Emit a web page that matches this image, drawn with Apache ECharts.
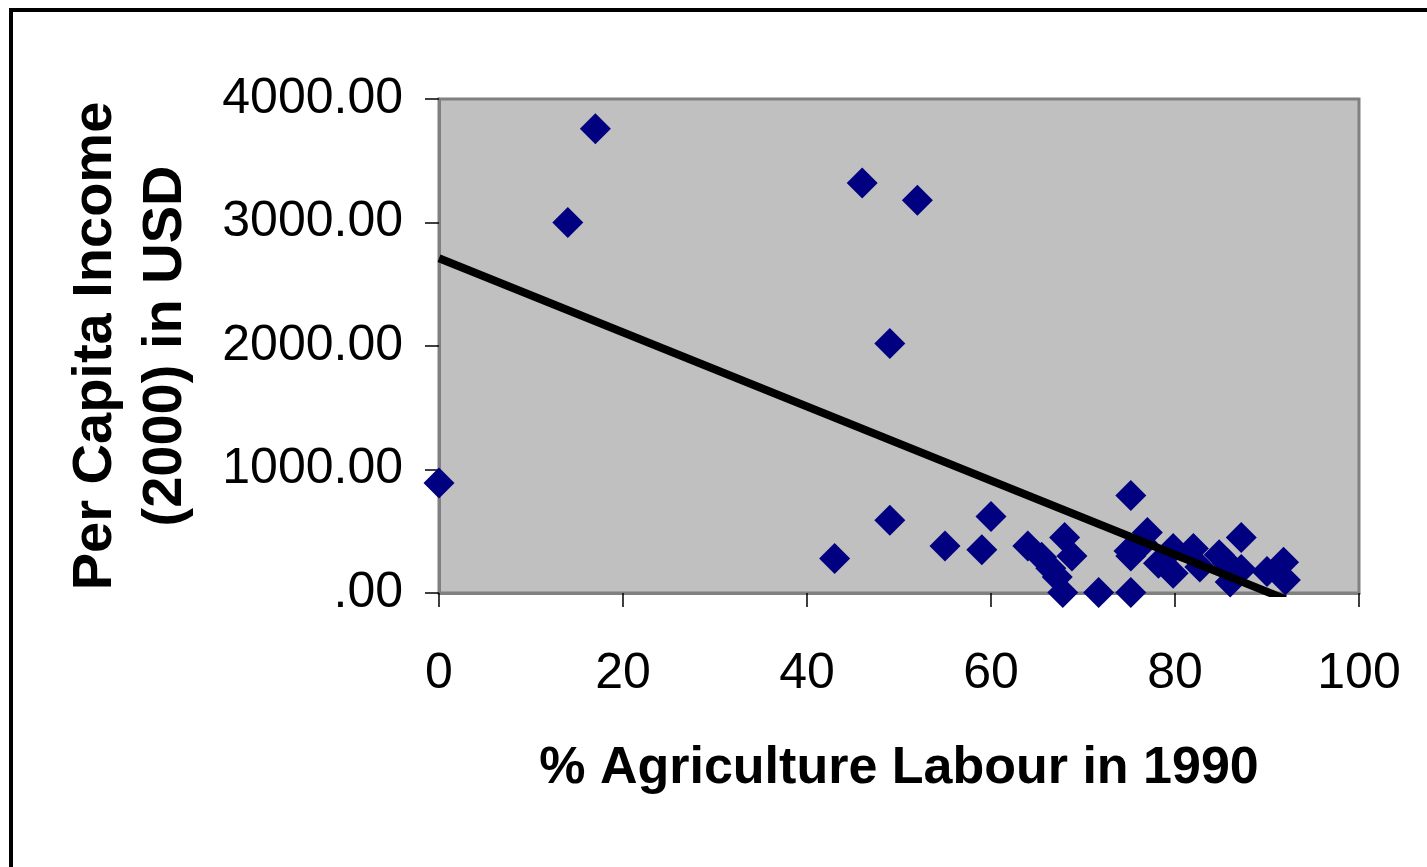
<!DOCTYPE html>
<html><head><meta charset="utf-8">
<script src="https://cdn.jsdelivr.net/npm/echarts@6/dist/echarts.min.js"></script>
<style>html,body{margin:0;padding:0;background:#fff;}#c{width:1427px;height:867px;}</style>
</head><body><div id="c"></div>
<script>
const agriLabour = [0, 14, 17, 43, 46, 49, 49, 52, 55, 59, 60, 64, 65.5, 66.5, 67.2, 67.8, 68, 68.8, 71.7, 75.2, 75.2, 75, 75.2, 77, 76.5, 78.2, 79.8, 79.8, 82, 82.7, 84.8, 85.7, 86, 87.2, 87.2, 90, 91.8, 92];
const income =     [890, 3000, 3760, 280, 3320, 2020, 590, 3180, 380, 350, 620, 380, 290, 200, 130, 5, 450, 300, 5, 790, 300, 340, 5, 490, 400, 240, 360, 160, 360, 210, 310, 240, 90, 450, 190, 175, 250, 105];
const trendX = [0, 92];
const trendY = [2710, -50];
const xTicks = [0, 20, 40, 60, 80, 100];
const yTicks = [0, 1000, 2000, 3000, 4000];

const chart = echarts.init(document.getElementById('c'), null, {renderer: 'canvas'});
const font = 'Liberation Sans, Arial, sans-serif';
chart.setOption({
  animation: false,
  backgroundColor: '#ffffff',
  grid: {left: 439, top: 99, right: 68, bottom: 274, show: true,
         backgroundColor: '#C0C0C0', borderColor: '#808080', borderWidth: 3},
  xAxis: {
    type: 'value', min: xTicks[0], max: xTicks[xTicks.length-1], interval: 20,
    axisLine: {show: true, onZero: false, lineStyle: {color: '#808080', width: 3}},
    axisTick: {show: true, length: 14, lineStyle: {color: '#000', width: 1.5}},
    splitLine: {show: false},
    axisLabel: {color: '#000', fontSize: 50, fontFamily: font, margin: 56},
    name: '% Agriculture Labour in 1990', nameLocation: 'middle', nameGap: 150,
    nameTextStyle: {color: '#000', fontSize: 52, fontWeight: 'bold', fontFamily: font}
  },
  yAxis: {
    type: 'value', min: yTicks[0], max: yTicks[yTicks.length-1], interval: 1000,
    axisLine: {show: true, lineStyle: {color: '#808080', width: 3}},
    axisTick: {show: true, length: 14, lineStyle: {color: '#000', width: 1.5}},
    splitLine: {show: false},
    axisLabel: {color: '#000', fontSize: 50, fontFamily: font, margin: 36,
      formatter: v => v === 0 ? '.00' : v.toFixed(2)},
    name: 'Per Capita Income\n(2000) in USD', nameLocation: 'middle', nameRotate: 90, nameGap: 238,
    nameTextStyle: {color: '#000', fontSize: 56, fontWeight: 'bold', fontFamily: font, lineHeight: 70}
  },
  series: [
    {type: 'scatter', symbol: 'diamond', symbolSize: 31,
     itemStyle: {color: '#000080', opacity: 1},
     data: agriLabour.map((x, i) => [x, income[i]]), z: 2},
    {type: 'line', symbol: 'none', clip: true,
     lineStyle: {color: '#000', width: 8},
     data: trendX.map((x, i) => [x, trendY[i]]), z: 3}
  ],
  graphic: [{type: 'rect', shape: {x: 11, y: 10, width: 1440, height: 900},
    style: {fill: 'none', stroke: '#000', lineWidth: 4}, z: 100}]
});
</script></body></html>
